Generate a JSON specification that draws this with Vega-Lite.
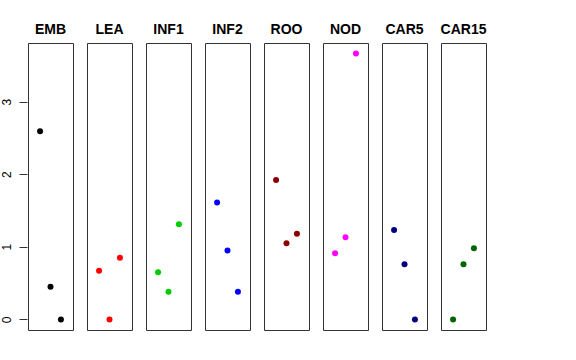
{
  "$schema": "https://vega.github.io/schema/vega-lite/v6.json",
  "padding": {"left": 0, "top": 23, "right": 5, "bottom": 5},
  "background": "white",
  "data": {"values": [
    {"panel": "EMB", "x": 1, "y": 2.59},
    {"panel": "EMB", "x": 2, "y": 0.45},
    {"panel": "EMB", "x": 3, "y": 0.0},
    {"panel": "LEA", "x": 1, "y": 0.67},
    {"panel": "LEA", "x": 2, "y": 0.0},
    {"panel": "LEA", "x": 3, "y": 0.85},
    {"panel": "INF1", "x": 1, "y": 0.65},
    {"panel": "INF1", "x": 2, "y": 0.38},
    {"panel": "INF1", "x": 3, "y": 1.31},
    {"panel": "INF2", "x": 1, "y": 1.61},
    {"panel": "INF2", "x": 2, "y": 0.95},
    {"panel": "INF2", "x": 3, "y": 0.38},
    {"panel": "ROO", "x": 1, "y": 1.92},
    {"panel": "ROO", "x": 2, "y": 1.05},
    {"panel": "ROO", "x": 3, "y": 1.18},
    {"panel": "NOD", "x": 1, "y": 0.91},
    {"panel": "NOD", "x": 2, "y": 1.13},
    {"panel": "NOD", "x": 3, "y": 3.66},
    {"panel": "CAR5", "x": 1, "y": 1.23},
    {"panel": "CAR5", "x": 2, "y": 0.76},
    {"panel": "CAR5", "x": 3, "y": 0.0},
    {"panel": "CAR15", "x": 1, "y": 0.0},
    {"panel": "CAR15", "x": 2, "y": 0.76},
    {"panel": "CAR15", "x": 3, "y": 0.98}
  ]},
  "facet": {
    "column": {
      "field": "panel",
      "type": "nominal",
      "sort": ["EMB", "LEA", "INF1", "INF2", "ROO", "NOD", "CAR5", "CAR15"],
      "header": {
        "title": null,
        "labelFont": "Liberation Sans",
        "labelFontSize": 14,
        "labelFontWeight": "bold",
        "labelColor": "black",
        "labelPadding": 5
      }
    }
  },
  "spacing": 12,
  "spec": {
    "width": 45,
    "height": 287,
    "mark": {"type": "point", "filled": true, "opacity": 1, "size": 36},
    "encoding": {
      "x": {"field": "x", "type": "quantitative", "scale": {"domain": [-0.16, 4.16], "nice": false, "zero": false}, "axis": null},
      "y": {"field": "y", "type": "quantitative", "scale": {"domain": [-0.146, 3.806], "nice": false, "zero": false},
        "axis": {"title": null, "values": [0, 1, 2, 3], "grid": false, "domain": false, "tickSize": 8, "tickColor": "#333",
          "labelAngle": -90, "labelAlign": "center", "labelBaseline": "bottom", "labelPadding": 6,
          "labelFont": "Liberation Sans", "labelFontSize": 12, "labelColor": "black"}},
      "color": {"field": "panel", "type": "nominal",
        "scale": {"domain": ["EMB", "LEA", "INF1", "INF2", "ROO", "NOD", "CAR5", "CAR15"],
                  "range": ["#000000", "#FF0000", "#00CD00", "#0000FF", "#8B0000", "#FF00FF", "#000080", "#006400"]},
        "legend": null}
    }
  },
  "config": {"view": {"stroke": "#333", "strokeWidth": 1}}
}
